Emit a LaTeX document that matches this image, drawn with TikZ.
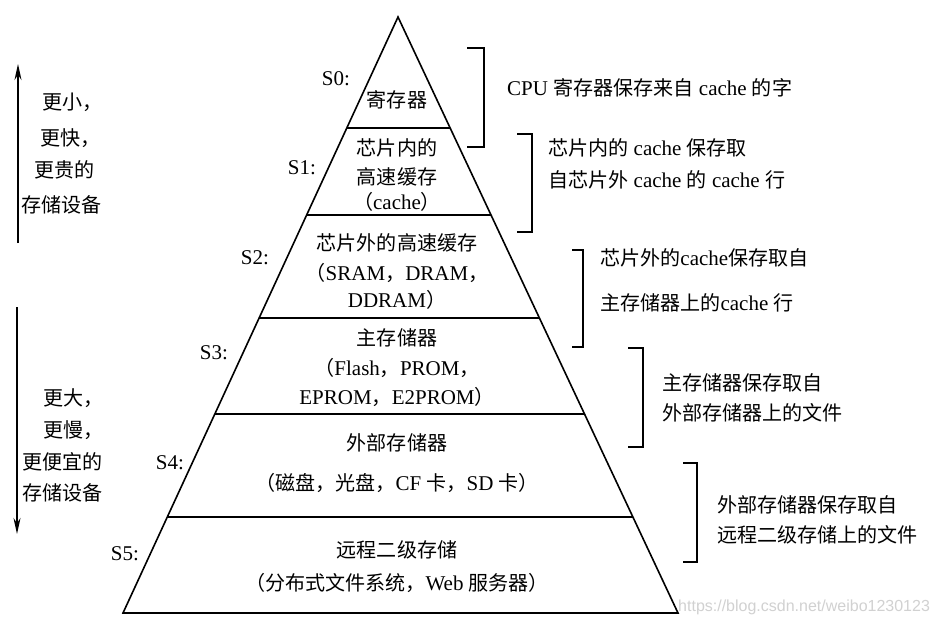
\documentclass[tikz,border=0pt]{standalone}
\usepackage{fontspec}
\setmainfont{Liberation Serif}
\newfontfamily\cjk[Scale=0.955]{Noto Sans CJK SC}
\newfontfamily\wmfont{Liberation Sans}
\newcommand\zh[1]{{\cjk #1}}
\usetikzlibrary{calc,arrows.meta}
\tikzset{
  txt/.style={anchor=base, inner sep=0pt, font=\fontsize{21}{24}\selectfont},
  ltxt/.style={anchor=base west, inner sep=0pt, font=\fontsize{21}{24}\selectfont},
  slabel/.style={anchor=base, inner sep=0pt, font=\fontsize{21}{24}\selectfont},
  pyr/.style={line width=1.6pt, line join=miter},
  brk/.style={line width=2pt},
  sidearrow/.style={line width=1.6pt, -{Stealth[length=16pt,width=7pt]}},
}
\begin{document}
\begin{tikzpicture}[x=1pt,y=-1pt]
\useasboundingbox[fill=white] (0,0) rectangle (936,625);

% pyramid
\coordinate (apex) at (398,17);
\coordinate (bl) at (123,613);
\coordinate (br) at (678,613);
\draw[pyr] (apex) -- (bl) -- (br) -- cycle;
\foreach \t in {0.1862,0.3322,0.5050,0.6661,0.8389}{
  \draw[pyr] ($(apex)!\t!(bl)$) -- ($(apex)!\t!(br)$);
}

% level labels
\node[slabel] (s0) at (336,85) {S0:};
\node[slabel] (s1) at (302,174) {S1:};
\node[slabel] (s2) at (255,264) {S2:};
\node[slabel] (s3) at (214,359) {S3:};
\node[slabel] (s4) at (170,469) {S4:};
\node[slabel] (s5) at (125,560) {S5:};

% pyramid contents
\node[txt] (l0) at (397,107) {\zh{寄存器}};
\node[txt] (l1a) at (397,155) {\zh{芯片内的}};
\node[txt] (l1b) at (397,184) {\zh{高速缓存}};
\node[txt] (l1c) at (397,209) {\zh{（}cache\zh{）}};
\node[txt] (l2a) at (397,250) {\zh{芯片外的高速缓存}};
\node[txt] (l2b) at (397,280) {\zh{（}SRAM\zh{，}DRAM\zh{，}};
\node[txt] (l2c) at (397,307) {DDRAM\zh{）}};
\node[txt] (l3a) at (397,345) {\zh{主存储器}};
\node[txt] (l3b) at (397,375) {\zh{（}Flash\zh{，}PROM\zh{，}};
\node[txt] (l3c) at (397,404) {EPROM\zh{，}E2PROM\zh{）}};
\node[txt] (l4a) at (397,450) {\zh{外部存储器}};
\node[txt] (l4b) at (397,490) {\zh{（磁盘，光盘，}CF \zh{卡，}SD \zh{卡）}};
\node[txt] (l5a) at (397,557) {\zh{远程二级存储}};
\node[txt] (l5b) at (397,590) {\zh{（分布式文件系统，}Web \zh{服务器）}};

% brackets
\draw[brk] (467,48) -- (484,48) -- (484,147) -- (467,147);
\draw[brk] (517,134) -- (532,134) -- (532,232) -- (517,232);
\draw[brk] (572,250) -- (583,250) -- (583,347) -- (572,347);
\draw[brk] (628,348) -- (643,348) -- (643,447) -- (628,447);
\draw[brk] (683,463) -- (697,463) -- (697,562) -- (683,562);

% right descriptions
\node[ltxt] (r0) at (507,95) {CPU \zh{寄存器保存来自} cache \zh{的字}};
\node[ltxt] (r1a) at (548,155) {\zh{芯片内的} cache \zh{保存取}};
\node[ltxt] (r1b) at (548,187) {\zh{自芯片外} cache \zh{的} cache \zh{行}};
\node[ltxt] (r2a) at (600,265) {\zh{芯片外的}cache\zh{保存取自}};
\node[ltxt] (r2b) at (600,310) {\zh{主存储器上的}cache \zh{行}};
\node[ltxt] (r3a) at (662,390) {\zh{主存储器保存取自}};
\node[ltxt] (r3b) at (662,420) {\zh{外部存储器上的文件}};
\node[ltxt] (r4a) at (717,512) {\zh{外部存储器保存取自}};
\node[ltxt] (r4b) at (717,542) {\zh{远程二级存储上的文件}};

% left arrows
\coordinate (upbot) at (18,243);
\coordinate (uptop) at (18,64);
\draw[sidearrow] (upbot) -- (uptop);
\coordinate (dntop) at (17,307);
\coordinate (dnbot) at (17,534);
\draw[sidearrow] (dntop) -- (dnbot);

\node[ltxt] (u1) at (42,109) {\zh{更小，}};
\node[ltxt] (u2) at (40,145) {\zh{更快，}};
\node[ltxt] (u3) at (34,177) {\zh{更贵的}};
\node[ltxt] (u4) at (21,212) {\zh{存储设备}};
\node[ltxt] (d1) at (43,405) {\zh{更大，}};
\node[ltxt] (d2) at (43,437) {\zh{更慢，}};
\node[ltxt] (d3) at (22,469) {\zh{更便宜的}};
\node[ltxt] (d4) at (22,500) {\zh{存储设备}};

% watermark
\node[anchor=base west, inner sep=0pt, text=black!18, font=\wmfont\fontsize{16}{18}\selectfont] (wm) at (678,611) {https://blog.csdn.net/weibo1230123};
\end{tikzpicture}
\end{document}
